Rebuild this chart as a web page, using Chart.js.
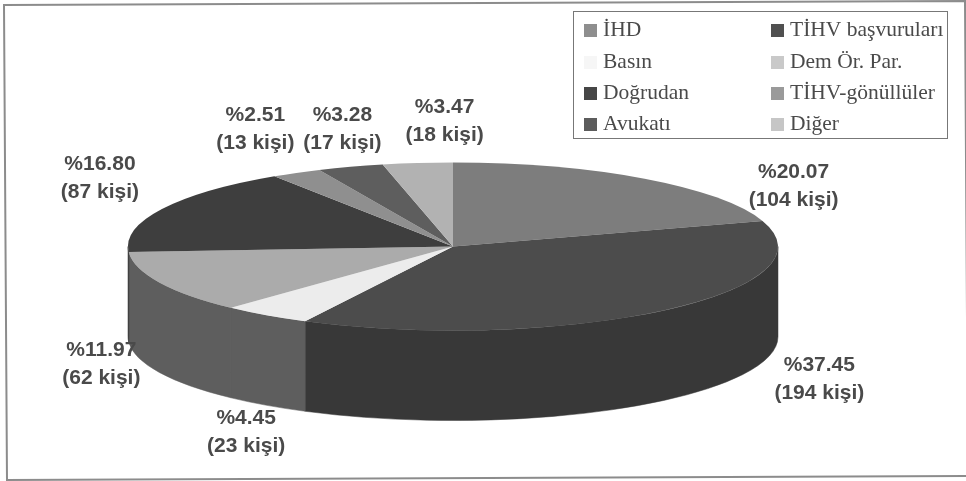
<!DOCTYPE html>
<html lang="tr">
<head>
<meta charset="utf-8">
<title>Başvuru kaynakları</title>
<style>
  html, body { margin: 0; padding: 0; background: #fff; }
  #pasta-kutu { position: relative; width: 966px; height: 481px; }
</style>
</head>
<body>
<div id="pasta-kutu"><canvas id="pasta" width="966" height="481"></canvas></div>
<script src="https://cdn.jsdelivr.net/npm/chart.js@4/dist/chart.umd.min.js"></script>
<script>
const kategoriler = ["İHD", "TİHV başvuruları", "Basın", "Dem Ör. Par.", "Doğrudan", "TİHV-gönüllüler", "Avukatı", "Diğer"];
const yuzdeler = [20.07, 37.45, 4.45, 11.97, 16.80, 2.51, 3.28, 3.47];
const kisiler = [104, 194, 23, 62, 87, 13, 17, 18];

const ustRenkler = ["#7d7d7d", "#4c4c4c", "#ececec", "#ababab", "#3e3e3e", "#8f8f8f", "#5e5e5e", "#b2b2b2"];
const yanRenkler = ["#5c5c5c", "#383838", "#5e5e5e", "#5e5e5e", "#333333", "#666666", "#444444", "#808080"];
const kutuRenkler = ["#8e8e8e", "#505050", "#f6f6f6", "#c9c9c9", "#464646", "#9a9a9a", "#5c5c5c", "#c6c6c6"];

// etiketlerin dilim kenarına göre kayması (piksel)
const etiketKayma = [[149, 8], [156, 69], [-20, 117], [-58, 82], [-62, -31], [-41, -44], [-8, -38], [27, -42]];

const BASIKLIK = 84 / 325; // pastanın yatık görünmesi için dikey ölçek
const DERINLIK = 90;

const yaziRengi = "#4a4a4a";

function duvarCiz(ctx, arc, renk) {
  const ry = arc.outerRadius * BASIKLIK;
  let bas = arc.startAngle;
  let son = arc.endAngle;
  // yalnızca öne bakan yarım görünür
  const tur = Math.PI * 2;
  if (bas >= tur) { bas -= tur; son -= tur; }
  if (son <= 0 || bas >= Math.PI) return;
  bas = Math.max(bas, 0);
  son = Math.min(son, Math.PI);
  if (son <= bas) return;

  ctx.beginPath();
  ctx.ellipse(arc.x, arc.y, arc.outerRadius, ry, 0, bas, son);
  ctx.ellipse(arc.x, arc.y + DERINLIK, arc.outerRadius, ry, 0, son, bas, true);
  ctx.closePath();
  ctx.fillStyle = renk;
  ctx.fill();
  ctx.strokeStyle = renk;
  ctx.lineWidth = 0.5;
  ctx.stroke();
}

const yatikPasta = {
  id: "yatikPasta",
  beforeDatasetsDraw(chart) {
    const ctx = chart.ctx;
    const arcs = chart.getDatasetMeta(0).data;
    arcs.forEach((arc, i) => duvarCiz(ctx, arc, yanRenkler[i]));

    const { x, y } = arcs[0];
    ctx.save();
    ctx.translate(x, y);
    ctx.scale(1, BASIKLIK);
    ctx.translate(-x, -y);
  },
  afterDatasetsDraw(chart) {
    chart.ctx.restore();
  }
};

const dilimEtiketleri = {
  id: "dilimEtiketleri",
  afterDraw(chart) {
    const ctx = chart.ctx;
    ctx.save();
    ctx.font = "bold 21px 'Liberation Sans', Arial, sans-serif";
    ctx.fillStyle = yaziRengi;
    ctx.textAlign = "center";
    ctx.textBaseline = "middle";
    chart.getDatasetMeta(0).data.forEach((arc, i) => {
      const orta = (arc.startAngle + arc.endAngle) / 2;
      const x = arc.x + Math.cos(orta) * arc.outerRadius + etiketKayma[i][0];
      const y = arc.y + Math.sin(orta) * arc.outerRadius * BASIKLIK + etiketKayma[i][1];
      ctx.fillText("%" + yuzdeler[i].toFixed(2), x, y - 14);
      ctx.fillText("(" + kisiler[i] + " kişi)", x, y + 14);
    });
    ctx.restore();
  }
};

// iki sütunlu açıklama kutusu ve dış çerçeve
const aciklamaKutusu = {
  id: "aciklamaKutusu",
  afterDraw(chart) {
    const ctx = chart.ctx;
    ctx.save();

    ctx.strokeStyle = "#8c8c8c";
    ctx.lineWidth = 2;
    ctx.beginPath();
    ctx.moveTo(4, 5);
    ctx.lineTo(965, 1);
    ctx.lineTo(968, 476);
    ctx.lineTo(7, 480);
    ctx.closePath();
    ctx.stroke();

    ctx.strokeStyle = "#777";
    ctx.lineWidth = 1;
    ctx.strokeRect(573.5, 11.5, 374, 127);

    const sutunlar = [584, 771];
    const satirlar = [30, 62, 93, 124];
    ctx.font = "21.5px 'Liberation Serif', 'Times New Roman', serif";
    ctx.textBaseline = "middle";
    ctx.textAlign = "left";
    kategoriler.forEach((ad, i) => {
      const x = sutunlar[i % 2];
      const y = satirlar[Math.floor(i / 2)];
      ctx.fillStyle = kutuRenkler[i];
      ctx.fillRect(x, y - 6, 13, 13);
      ctx.fillStyle = yaziRengi;
      ctx.fillText(ad, x + 19, y);
    });
    ctx.restore();
  }
};

new Chart(document.getElementById("pasta").getContext("2d"), {
  type: "pie",
  data: {
    labels: kategoriler,
    datasets: [{
      data: yuzdeler,
      backgroundColor: ustRenkler,
      borderWidth: 0,
      clip: false
    }]
  },
  options: {
    responsive: false,
    animation: false,
    radius: 325,
    layout: { padding: { left: 0, right: 60, top: 12, bottom: 0 } },
    plugins: {
      legend: { display: false },
      tooltip: { enabled: false }
    }
  },
  plugins: [yatikPasta, dilimEtiketleri, aciklamaKutusu]
});
</script>
</body>
</html>
